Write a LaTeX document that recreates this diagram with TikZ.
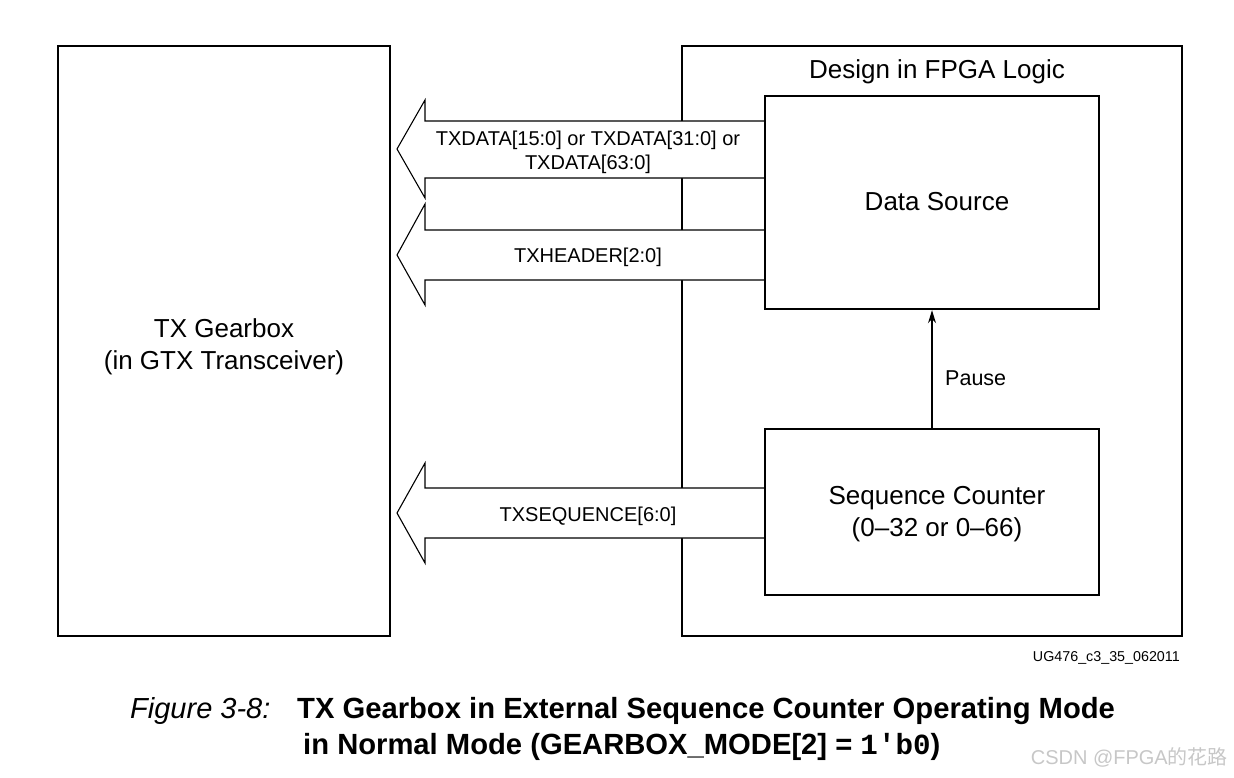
\documentclass[tikz,border=0pt]{standalone}
\usepackage{fontspec}
\setmainfont{Liberation Sans}
\setmonofont{Liberation Mono}
\newfontfamily\cjk{Noto Sans CJK SC}
\usetikzlibrary{arrows.meta}
\newcommand\fsz[2]{\fontsize{#1}{#2}\selectfont}
\newcommand\mybigarrow[6]{% node, headtop, bodytop, tipy, bodybot, headbot
  \fill[white] (#1.west |- 0,#3) -- (425,#3) -- (425,#2) -- (397,#4) -- (425,#6) -- (425,#5) -- (#1.west |- 0,#5) -- cycle;
  \draw[fatline] (#1.west |- 0,#3) -- (425,#3) -- (425,#2) -- (397,#4) -- (425,#6) -- (425,#5) -- (#1.west |- 0,#5);}
\tikzset{
  blk/.style={draw, line width=2.4pt, inner sep=0pt, minimum width=#1},
  fatline/.style={line width=1.1pt, line join=miter},
  lbl/.style={inner sep=0pt, font=\fsz{20}{24}, align=center},
  big/.style={inner sep=0pt, font=\fsz{26}{30}, align=center},
}
\begin{document}
\begin{tikzpicture}[x=1pt,y=-1pt]
\useasboundingbox (0,0) rectangle (1234,777);
% boxes
\node[blk=332pt, minimum height=590pt] (gb) at (224,341) {};
\node[big] (gbt) at (224,347) {TX Gearbox\\[2pt](in GTX Transceiver)};
\node[blk=500pt, minimum height=590pt] (fpga) at (932,341) {};
\node[big, anchor=base] (fpgat) at (937,78) {Design in FPGA Logic};
% wide arrows
\node[blk=334pt, minimum height=213pt, draw=none] (ds) at (932,202.5) {};
\node[blk=334pt, minimum height=166pt, draw=none] (sc) at (932,512) {};
\mybigarrow{ds}{100}{121}{149}{178}{198}
\mybigarrow{ds}{204}{230}{255}{280}{305}
\mybigarrow{sc}{463}{488}{513}{538}{563}
\node[blk=334pt, minimum height=213pt] (dsb) at (932,202.5) {};
\node[blk=334pt, minimum height=166pt] (scb) at (932,512) {};
\node[big] (dst) at (937,202) {Data Source};
\node[big] (sct) at (937,514) {Sequence Counter\\[2pt](0--32 or 0--66)};
\node[lbl] (l1) at (588,152.5) {TXDATA[15:0] or TXDATA[31:0] or\\[0pt]TXDATA[63:0]};
\node[lbl] (l2) at (588,257) {TXHEADER[2:0]};
\node[lbl] (l3) at (588,516) {TXSEQUENCE[6:0]};
% pause
\draw[line width=1.2pt, -{Stealth[length=13pt,width=8pt]}] (scb.north) -- (dsb.south);
\node[lbl, font=\fsz{21.5}{26}, anchor=west] (pause) at (945,378) {Pause};
\node[inner sep=0pt, font=\fsz{14.3}{17}, anchor=base east] (ug) at (1180,661) {UG476\_c3\_35\_062011};
% caption
\node[inner sep=0pt, font=\fsz{29}{34}\itshape, anchor=base west] (fig) at (130,718) {Figure 3-8:};
\node[inner sep=0pt, font=\fsz{29.2}{34}\bfseries, anchor=base west] (cap1) at (297,718) {TX Gearbox in External Sequence Counter Operating Mode};
\node[inner sep=0pt, font=\fsz{29.2}{34}\bfseries, anchor=base west] (cap2) at (303,754) {in Normal Mode (GEARBOX\_MODE[2] = {\ttfamily\bfseries 1'b0})};
\node[inner sep=0pt, font=\fsz{20}{24}, text=black!22, anchor=base east] (wm) at (1228,764) {CSDN @FPGA{\cjk 的花路}};
\end{tikzpicture}
\end{document}
